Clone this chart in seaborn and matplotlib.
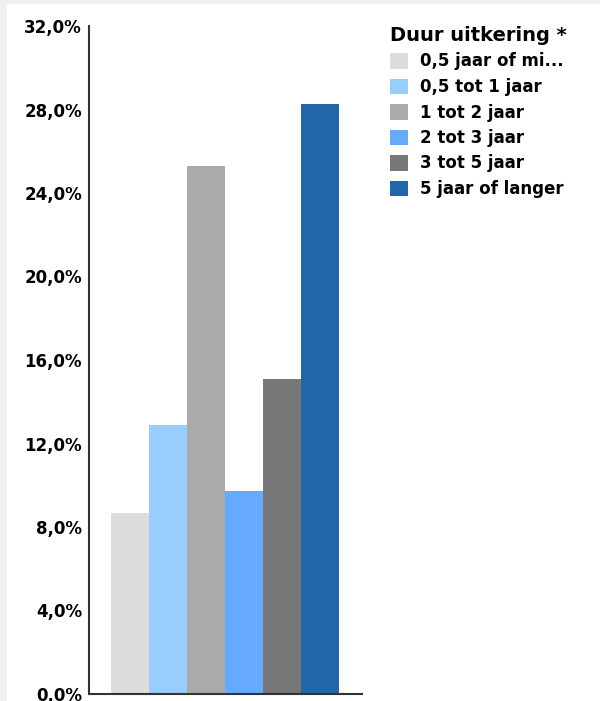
import matplotlib
matplotlib.use("Agg")
import matplotlib.pyplot as plt
import matplotlib.patches as mpatches
from matplotlib.ticker import FuncFormatter, MultipleLocator
import seaborn as sns
import pandas as pd

categories = ["0,5 jaar of mi...", "0,5 tot 1 jaar", "1 tot 2 jaar",
              "2 tot 3 jaar", "3 tot 5 jaar", "5 jaar of langer"]
shares = [8.66, 12.87, 25.29, 9.71, 15.09, 28.26]
colors = ["#DDDDDD", "#99CCFF", "#AAAAAA", "#66AAFF", "#777777", "#2266AA"]
legend_title = "Duur uitkering *"

df = pd.DataFrame({"duur": categories, "aandeel": shares})

sns.set_style("white")
plt.rcParams["font.family"] = ["DejaVu Sans"]
plt.rcParams["font.weight"] = "bold"
plt.rcParams["text.color"] = "black"

W, H = 600, 701
fig = plt.figure(figsize=(W / 100, H / 100), dpi=100)
fig.patch.set_facecolor("#F0F0F0")
# white panel covering everything except a thin frame at top and left
fig.patches.append(mpatches.Rectangle((7 / W, 0), 1 - 7 / W, 1 - 4 / H,
                                      transform=fig.transFigure,
                                      facecolor="white", edgecolor="none",
                                      zorder=-10))

ax = fig.add_axes([89 / W, 7 / H, (362 - 89) / W, (694 - 26) / H])
ax.set_facecolor("none")
ax.set_zorder(1)

sns.barplot(data=df, x="duur", y="aandeel", hue="duur", palette=colors,
            saturation=1, width=1.0, dodge=False, legend=False, ax=ax,
            linewidth=0)

ax.set_xlim(-1.079, 6.105)
ax.set_ylim(0, 32)
ax.yaxis.set_major_locator(MultipleLocator(4))
ax.yaxis.set_major_formatter(FuncFormatter(lambda v, _: f"{v:.1f}%".replace(".", ",")))
ax.set_xticks([])
ax.set_xlabel("")
ax.set_ylabel("")
ax.tick_params(axis="y", length=0, pad=5, labelsize=12, labelcolor="black")
for lbl in ax.get_yticklabels():
    lbl.set_fontweight("bold")

for side in ["top", "right"]:
    ax.spines[side].set_visible(False)
for side in ["left", "bottom"]:
    ax.spines[side].set_color("#333333")
    ax.spines[side].set_linewidth(1.5)

handles = [mpatches.Patch(facecolor=c, edgecolor="none", label=l)
           for c, l in zip(colors, categories)]
leg = fig.legend(handles=handles, title=legend_title, loc="upper left",
                 bbox_to_anchor=(390 / W, 1 - 26 / H), frameon=False,
                 fontsize=12, title_fontsize=14, alignment="left",
                 handlelength=1.05, handleheight=1.05, handletextpad=0.75,
                 labelspacing=0.45, borderaxespad=0, borderpad=0)
leg.get_title().set_fontweight("bold")
leg.get_title().set_color("black")
for t in leg.get_texts():
    t.set_fontweight("bold")
    t.set_color("black")

fig.savefig("out.png", dpi=100, facecolor=fig.get_facecolor())
